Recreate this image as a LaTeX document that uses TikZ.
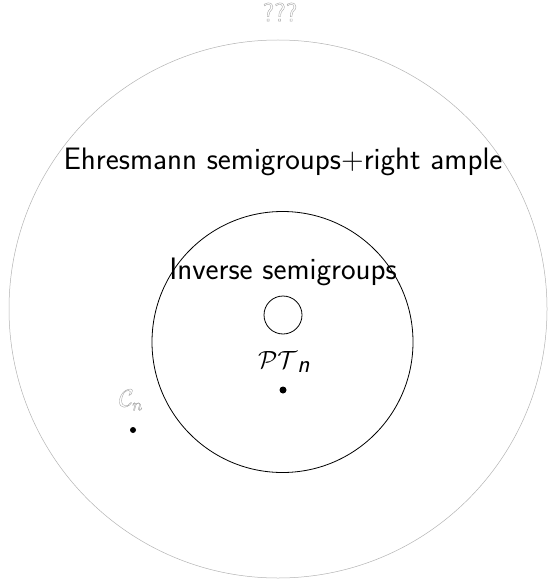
\documentclass[tikz,border=0pt]{standalone}
\usepackage{amssymb}
\usetikzlibrary{calc}
\renewcommand{\familydefault}{\sfdefault}
\newcommand{\outlinetext}[1]{\special{pdf:literal 1 Tr 0.4 w}#1\special{pdf:literal 0 Tr}}
\begin{document}
\begin{tikzpicture}[x=1pt,y=-1pt,
  big/.style={font=\fontsize{31}{36}\selectfont\sffamily, inner sep=0pt},
  ghost/.style={text=black!35, inner sep=0pt},
  dotm/.style={circle, fill=black, inner sep=0pt, minimum size=7pt}]
\useasboundingbox (0,0) rectangle (556,588);
\node[circle, draw=black!30, line width=0.5pt, minimum size=538pt, inner sep=0pt] (outer) at (278,309) {};
\node[circle, draw, line width=0.8pt, minimum size=261pt, inner sep=0pt] (inner) at (282.5,342) {};
\node[circle, draw, line width=0.8pt, minimum size=38pt, inner sep=0pt] (small) at (283,315) {};
\node[big] (ehr) at (283,162) {Ehresmann semigroups+right ample};
\node[big] (inv) at (283,272) {Inverse semigroups};
\node[ghost, font=\fontsize{26}{30}\selectfont] (q) at (280,12) {\outlinetext{???}};
\node[inner sep=0pt, font=\fontsize{25}{28}\selectfont] (pt) at (284,362) {$\mathcal{PT}_{\textsf{\textit{n}}}$};
\node[dotm] (ptdot) at (283,390) {};
\node[ghost, font=\fontsize{25}{30}\selectfont] (cn) at (131,400) {\outlinetext{$\mathcal{C}_{n}$}};
\node[dotm, minimum size=6pt] (cndot) at (133,430) {};
\end{tikzpicture}
\end{document}
